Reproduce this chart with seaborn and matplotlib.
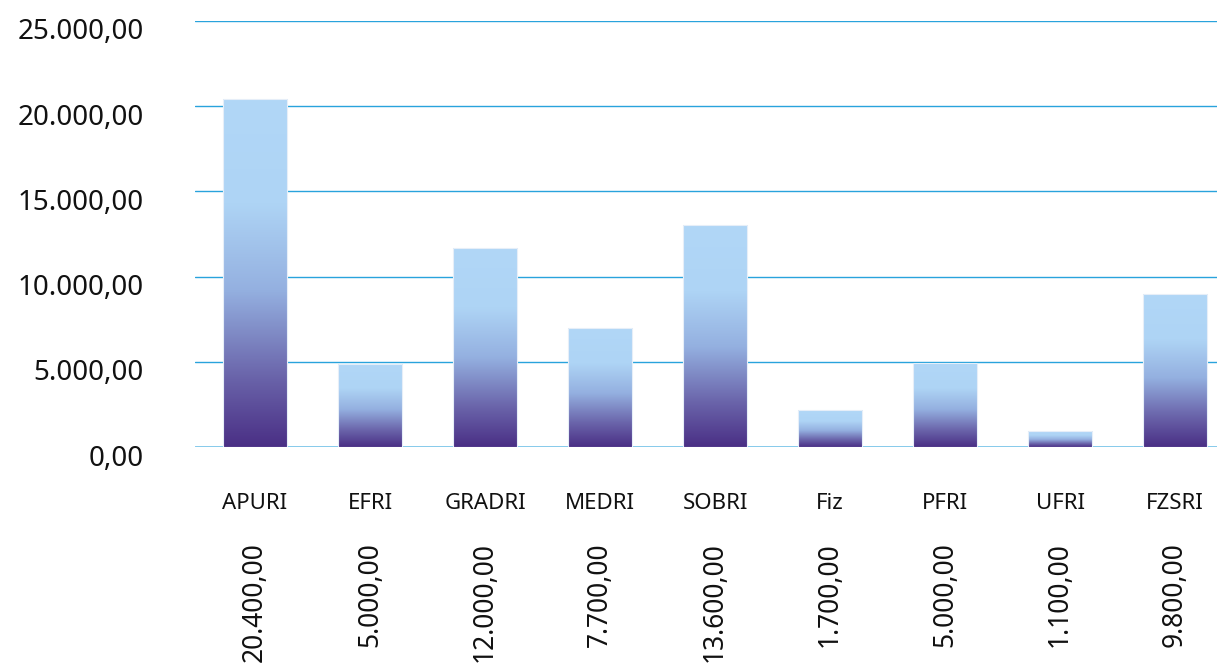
import numpy as np
import seaborn as sns
import matplotlib.pyplot as plt
from matplotlib.colors import LinearSegmentedColormap
from matplotlib.ticker import FuncFormatter
import matplotlib.transforms as mtransforms

categories = ["APURI", "EFRI", "GRADRI", "MEDRI", "SOBRI", "Fiz", "PFRI", "UFRI", "FZSRI"]
bar_values = [20400, 4900, 11650, 7000, 13050, 2150, 4920, 950, 8980]
value_labels = ["20.400,00", "5.000,00", "12.000,00", "7.700,00", "13.600,00",
                "1.700,00", "5.000,00", "1.100,00", "9.800,00"]
y_ticks = [0, 5000, 10000, 15000, 20000, 25000]

sns.set_theme(style="white")
plt.rcParams['font.family'] = ['Noto Sans', 'DejaVu Sans']

fig = plt.figure(figsize=(12.17, 6.71), dpi=100)
ax = fig.add_axes([195 / 1217, 224 / 671, 1022 / 1217, 426 / 671])

sns.barplot(x=categories, y=bar_values, ax=ax, width=0.557, color="#aed4f5",
            edgecolor="#e6eef8", linewidth=0.8, zorder=3)

# vertical gradient fill inside every bar
cmap = LinearSegmentedColormap.from_list(
    "grad", [(0, "#4a2f85"), (0.2, "#6a64aa"), (0.45, "#94b0e0"),
             (0.7, "#aed4f5"), (1, "#b1d7f7")])
grad = np.linspace(0, 1, 256).reshape(-1, 1)
for p in ax.patches:
    x0, w, h = p.get_x(), p.get_width(), p.get_height()
    p.set_facecolor("none")
    p.set_zorder(4)
    im = ax.imshow(grad, extent=[x0, x0 + w, 0, h], aspect="auto", cmap=cmap,
                   origin="lower", zorder=3.5)
    im.set_clip_path(p)

ax.set_xlim(-0.522, 8.365)
ax.set_ylim(0, 25000)
ax.set_yticks(y_ticks)
ax.yaxis.set_major_formatter(FuncFormatter(
    lambda v, _: f"{v:,.2f}".replace(",", "X").replace(".", ",").replace("X", ".")))
ax.grid(axis="y", color="#29a3dc", linewidth=1.0, zorder=0)
ax.set_axisbelow(True)
ax.axhline(0, color="#80c8ea", linewidth=2, zorder=2)
for s in ax.spines.values():
    s.set_visible(False)
ax.tick_params(axis="y", length=0, pad=37, labelsize=20, labelcolor="#111111")
ax.tick_params(axis="x", length=0, pad=33, labelsize=16, labelcolor="#111111")
ax.set_xlabel("")
ax.set_ylabel("")

shift = mtransforms.ScaledTranslation(0, -0.08, fig.dpi_scale_trans)
for lbl in ax.get_yticklabels():
    lbl.set_transform(lbl.get_transform() + shift)

trans = mtransforms.blended_transform_factory(ax.transData, fig.transFigure)
for i, lab in enumerate(value_labels):
    ax.text(i, 129 / 671, lab, transform=trans, rotation=90, ha="center", va="top",
            fontsize=19, color="#111111")

fig.savefig("out.png", dpi=100)
